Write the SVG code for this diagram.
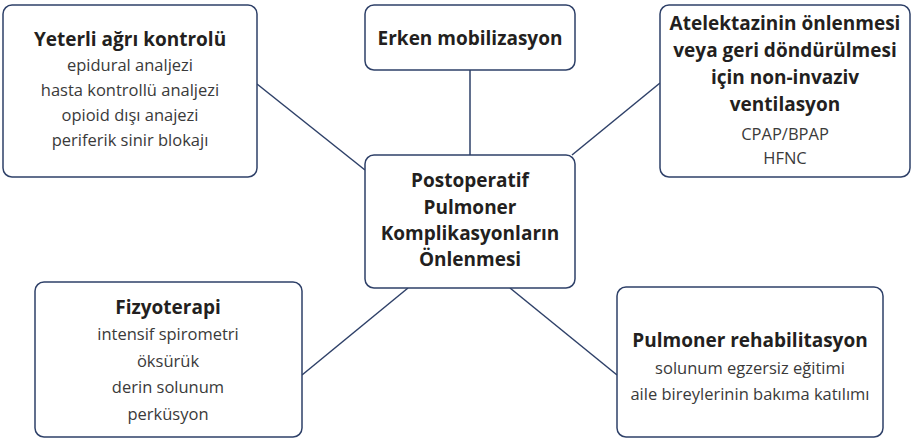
<svg xmlns="http://www.w3.org/2000/svg" width="913" height="439" viewBox="0 0 913 439">
<style>
.box{fill:#fff;stroke:#2e4068;stroke-width:1.5}
.ln{stroke:#2e4068;stroke-width:1.5;fill:none}
text{font-family:"Open Sans","Noto Sans",sans-serif;text-anchor:middle}
.b{font-weight:bold;font-size:19px;fill:#231f20}
.r{font-size:16.5px;fill:#3a3a3a}
</style>
<rect width="913" height="439" fill="#fff"/>
<g id="connectors">
<line class="ln" x1="257" y1="84" x2="365" y2="170"/>
<line class="ln" x1="470" y1="70" x2="470" y2="155"/>
<line class="ln" x1="660" y1="83" x2="572" y2="155"/>
<line class="ln" x1="408" y1="288" x2="302" y2="375"/>
<line class="ln" x1="510" y1="288" x2="617" y2="375"/>
</g>
<g id="n-agri">
<rect class="box" x="3" y="5" width="254" height="172" rx="9"/>
<text class="b" x="130" y="46">Yeterli ağrı kontrolü</text>
<text class="r" x="130" y="71">epidural analjezi</text>
<text class="r" x="130" y="96">hasta kontrollü analjezi</text>
<text class="r" x="130" y="121">opioid dışı anajezi</text>
<text class="r" x="130" y="146">periferik sinir blokajı</text>
</g>
<g id="n-mobil">
<rect class="box" x="365" y="5" width="210" height="65" rx="9"/>
<text class="b" x="470" y="45">Erken mobilizasyon</text>
</g>
<g id="n-atel">
<rect class="box" x="660" y="5" width="250" height="172" rx="9"/>
<text class="b" x="785" y="30">Atelektazinin önlenmesi</text>
<text class="b" x="785" y="57">veya geri döndürülmesi</text>
<text class="b" x="785" y="84">için non-invaziv</text>
<text class="b" x="785" y="111">ventilasyon</text>
<text class="r" x="785" y="140">CPAP/BPAP</text>
<text class="r" x="785" y="164">HFNC</text>
</g>
<g id="n-center">
<rect class="box" x="365" y="155" width="210" height="133" rx="9"/>
<text class="b" x="470" y="187">Postoperatif</text>
<text class="b" x="470" y="214">Pulmoner</text>
<text class="b" x="470" y="240">Komplikasyonların</text>
<text class="b" x="470" y="266">Önlenmesi</text>
</g>
<g id="n-fizyo">
<rect class="box" x="35" y="282" width="267" height="155" rx="9"/>
<text class="b" x="168" y="314">Fizyoterapi</text>
<text class="r" x="168" y="340">intensif spirometri</text>
<text class="r" x="168" y="367">öksürük</text>
<text class="r" x="168" y="393">derin solunum</text>
<text class="r" x="168" y="420">perküsyon</text>
</g>
<g id="n-rehab">
<rect class="box" x="617" y="287" width="266" height="150" rx="9"/>
<text class="b" x="750" y="347">Pulmoner rehabilitasyon</text>
<text class="r" x="750" y="374">solunum egzersiz eğitimi</text>
<text class="r" x="750" y="400">aile bireylerinin bakıma katılımı</text>
</g>
</svg>
